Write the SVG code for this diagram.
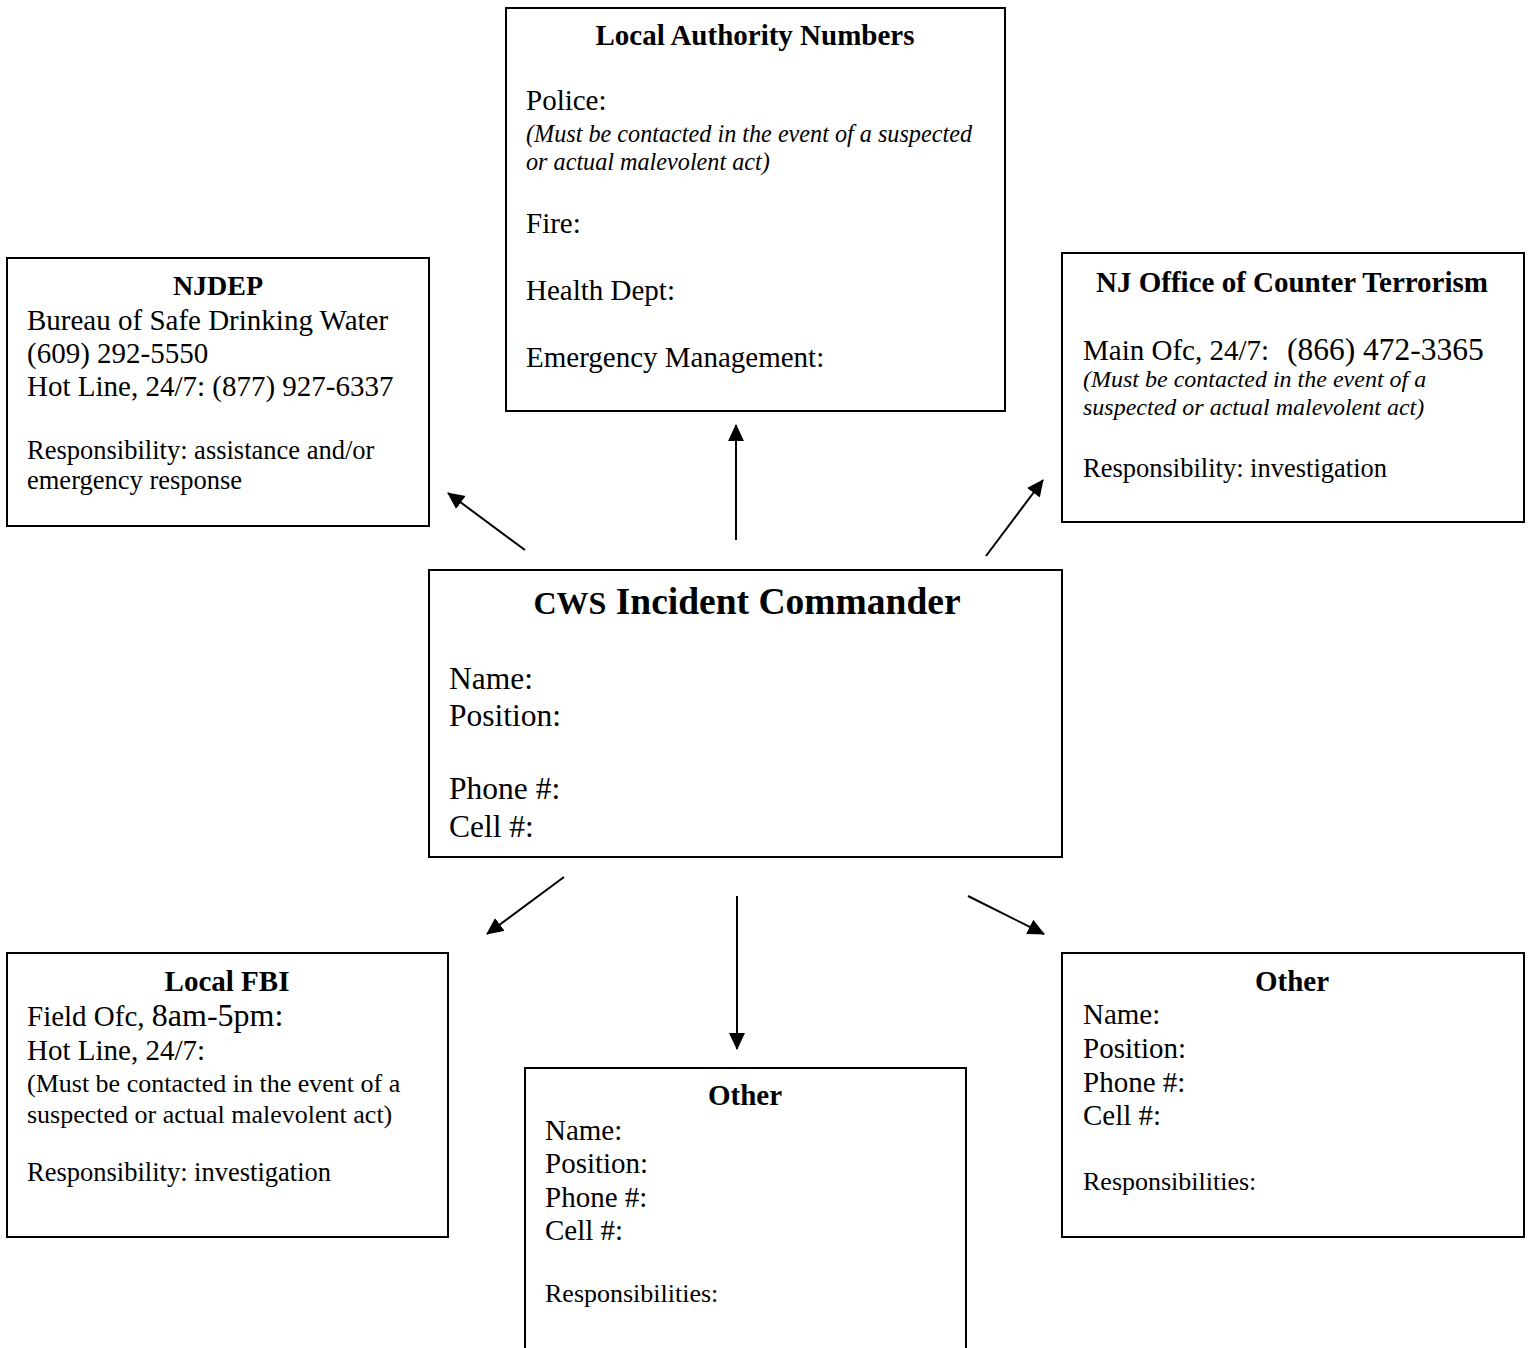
<svg xmlns="http://www.w3.org/2000/svg" width="1532" height="1348" viewBox="0 0 1532 1348">
  <style>
    text { font-family: "Liberation Serif", "Times New Roman", serif; fill: #000; }
    .box { fill: #fff; stroke: #000; stroke-width: 2; }
    .title { font-weight: bold; font-size: 29px; text-anchor: middle; }
    .body { font-size: 29px; }
    .resp { font-size: 26.5px; }
    .ital { font-style: italic; font-size: 24.2px; }
    .conn { stroke: #000; stroke-width: 2; fill: none; marker-end: url(#arrow); }
  </style>
  <defs>
    <marker id="arrow" markerUnits="userSpaceOnUse" markerWidth="18" markerHeight="17" refX="16" refY="8" orient="auto" viewBox="0 0 18 17">
      <path d="M0,0 L17,8 L0,16 z" fill="#000"/>
    </marker>
  </defs>
  <rect x="0" y="0" width="1532" height="1348" fill="#fff"/>

  <g id="connectors">
    <line class="conn" x1="525" y1="550" x2="448" y2="493"/>
    <line class="conn" x1="736" y1="540" x2="736" y2="425"/>
    <line class="conn" x1="986" y1="556" x2="1043" y2="480"/>
    <line class="conn" x1="564" y1="877" x2="487" y2="934"/>
    <line class="conn" x1="737" y1="896" x2="737" y2="1049"/>
    <line class="conn" x1="968" y1="896" x2="1044" y2="934"/>
  </g>

  <g id="njdep">
    <rect class="box" x="7" y="258" width="422" height="268"/>
    <text class="title" x="218" y="295" style="font-size:28px">NJDEP</text>
    <text class="body" x="27" y="330">Bureau of Safe Drinking Water</text>
    <text class="body" x="27" y="363">(609) 292-5550</text>
    <text class="body" x="27" y="396">Hot Line, 24/7: (877) 927-6337</text>
    <text class="resp" x="27" y="459">Responsibility: assistance and/or</text>
    <text class="resp" x="27" y="489">emergency response</text>
  </g>

  <g id="local-authority">
    <rect class="box" x="506" y="8" width="499" height="403"/>
    <text class="title" x="755" y="45">Local Authority Numbers</text>
    <text class="body" x="526" y="110">Police:</text>
    <text class="ital" x="526" y="142">(Must be contacted in the event of a suspected</text>
    <text class="ital" x="526" y="170">or actual malevolent act)</text>
    <text class="body" x="526" y="233">Fire:</text>
    <text class="body" x="526" y="300">Health Dept:</text>
    <text class="body" x="526" y="367">Emergency Management:</text>
  </g>

  <g id="nj-counter-terrorism">
    <rect class="box" x="1062" y="253" width="462" height="269"/>
    <text class="title" x="1292" y="292">NJ Office of Counter Terrorism</text>
    <text class="body" x="1083" y="360">Main Ofc, 24/7:<tspan x="1287" style="font-size:31.5px">(866) 472-3365</tspan></text>
    <text class="ital" x="1083" y="387" style="font-size:24px">(Must be contacted in the event of a</text>
    <text class="ital" x="1083" y="415" style="font-size:24px">suspected or actual malevolent act)</text>
    <text class="resp" x="1083" y="477">Responsibility: investigation</text>
  </g>

  <g id="incident-commander">
    <rect class="box" x="429" y="570" width="633" height="287"/>
    <text x="747" y="614" style="font-weight:bold;text-anchor:middle"><tspan style="font-size:32px">CWS</tspan><tspan style="font-size:37.5px"> Incident Commander</tspan></text>
    <text x="449" y="689" style="font-size:31.5px">Name:</text>
    <text x="449" y="726" style="font-size:31.5px">Position:</text>
    <text x="449" y="799" style="font-size:31.5px">Phone #:</text>
    <text x="449" y="837" style="font-size:31.5px">Cell #:</text>
  </g>

  <g id="local-fbi">
    <rect class="box" x="7" y="953" width="441" height="284"/>
    <text class="title" x="227" y="991">Local FBI</text>
    <text class="body" x="27" y="1026">Field Ofc, <tspan style="font-size:32px">8am-5pm:</tspan></text>
    <text class="body" x="27" y="1060">Hot Line, 24/7:</text>
    <text x="27" y="1092" style="font-size:26px">(Must be contacted in the event of a</text>
    <text x="27" y="1123" style="font-size:26px">suspected or actual malevolent act)</text>
    <text class="resp" x="27" y="1181">Responsibility: investigation</text>
  </g>

  <g id="other-center">
    <rect class="box" x="525" y="1068" width="441" height="300"/>
    <text class="title" x="745" y="1105">Other</text>
    <text class="body" x="545" y="1140">Name:</text>
    <text class="body" x="545" y="1173">Position:</text>
    <text class="body" x="545" y="1207">Phone #:</text>
    <text class="body" x="545" y="1240">Cell #:</text>
    <text x="545" y="1302" style="font-size:26px">Responsibilities:</text>
  </g>

  <g id="other-right">
    <rect class="box" x="1062" y="953" width="462" height="284"/>
    <text class="title" x="1292" y="991">Other</text>
    <text class="body" x="1083" y="1024">Name:</text>
    <text class="body" x="1083" y="1058">Position:</text>
    <text class="body" x="1083" y="1092">Phone #:</text>
    <text class="body" x="1083" y="1125">Cell #:</text>
    <text x="1083" y="1190" style="font-size:26px">Responsibilities:</text>
  </g>
</svg>
